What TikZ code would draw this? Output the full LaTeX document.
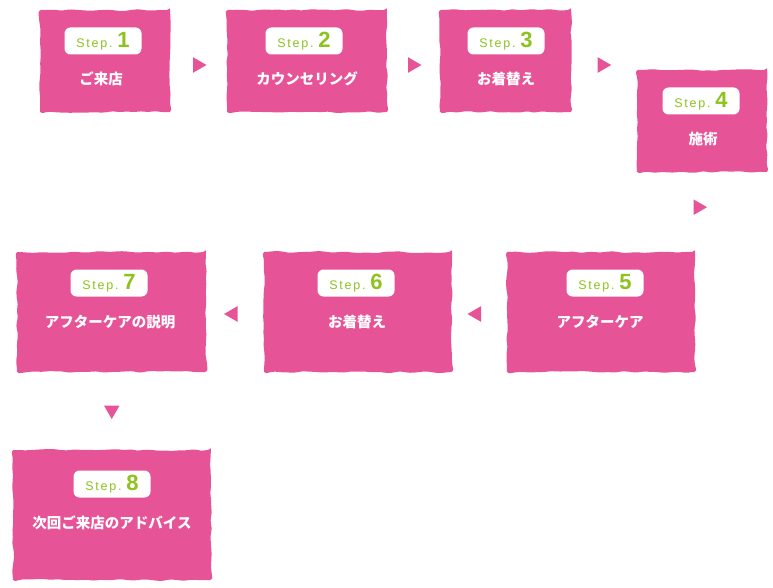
\documentclass[tikz,border=0pt]{standalone}
\usepackage{fontspec}
\setmainfont{Liberation Sans}
\newfontfamily\jp{Noto Sans CJK JP}
\usetikzlibrary{calc,shapes.geometric,decorations.pathmorphing}
\definecolor{cardpink}{HTML}{E75397}
\definecolor{stepgreen}{HTML}{8DC21F}
\tikzset{
  card/.style={fill=cardpink, inner sep=0pt, decorate,
    decoration={random steps, segment length=7pt, amplitude=1pt},
    rounded corners=3pt},
  tag/.style={fill=white, rounded corners=6pt, minimum width=77pt,
    minimum height=27pt, inner sep=0pt, text=stepgreen},
  caption/.style={text=white, font=\jp\bfseries\fontsize{14.5}{16}\selectfont},
  pointer/.style={regular polygon, regular polygon sides=3, fill=cardpink,
    minimum size=18pt, inner sep=0pt},
}
\newcommand{\steplabel}[1]{{\fontsize{12.5}{13}\selectfont\addfontfeature{LetterSpace=14}Step.}\hspace{5pt}{\fontsize{22}{22}\selectfont\bfseries #1}}
\begin{document}
\begin{tikzpicture}[x=1pt, y=-1pt]
  \useasboundingbox (0,0) rectangle (773,588);

  % top row
  \node[card, minimum width=130pt, minimum height=102pt] (s1) at (105,61) {};
  \node[tag] (t1) at (103,41) {\steplabel{1}};
  \node[caption] (c1) at (101,79) {ご来店};

  \node[card, minimum width=160pt, minimum height=102pt] (s2) at (307,61) {};
  \node[tag] (t2) at (304,41) {\steplabel{2}};
  \node[caption] (c2) at (307,79) {カウンセリング};

  \node[card, minimum width=131pt, minimum height=102pt] (s3) at (505.5,61) {};
  \node[tag] (t3) at (506,41) {\steplabel{3}};
  \node[caption] (c3) at (506,79) {お着替え};

  \node[card, minimum width=130pt, minimum height=102pt] (s4) at (702,121) {};
  \node[tag] (t4) at (701,101) {\steplabel{4}};
  \node[caption] (c4) at (703,139) {施術};

  % middle row
  \node[card, minimum width=188pt, minimum height=120pt] (s5) at (601,312) {};
  \node[tag] (t5) at (605,283) {\steplabel{5}};
  \node[caption] (c5) at (600,322) {アフターケア};

  \node[card, minimum width=188pt, minimum height=120pt] (s6) at (358,312) {};
  \node[tag] (t6) at (356,283) {\steplabel{6}};
  \node[caption] (c6) at (357,322) {お着替え};

  \node[card, minimum width=189pt, minimum height=120pt] (s7) at (111.5,312) {};
  \node[tag] (t7) at (109,283) {\steplabel{7}};
  \node[caption] (c7) at (110,322) {アフターケアの説明};

  % bottom
  \node[card, minimum width=198pt, minimum height=130pt] (s8) at (112,515) {};
  \node[tag] (t8) at (112,484) {\steplabel{8}};
  \node[caption] (c8) at (112,523) {次回ご来店のアドバイス};

  % pointers between the steps
  \node[pointer, shape border rotate=-90] (p1) at ($(s1.east)!0.5!(s2.west)+(-1,4)$) {};
  \node[pointer, shape border rotate=-90] (p2) at ($(s2.east)!0.5!(s3.west)+(-1,4)$) {};
  \node[pointer, shape border rotate=-90] (p3) at ($(s3.east)+(31,4)$) {};
  \node[pointer, shape border rotate=-90] (p4) at ($(s4.south)+(-4,35)$) {};
  \node[pointer, shape border rotate=90] (p5) at ($(s6.east)!0.5!(s5.west)+(-3,2)$) {};
  \node[pointer, shape border rotate=90] (p6) at ($(s7.east)!0.5!(s6.west)+(-2,2)$) {};
  \node[pointer, shape border rotate=180] (p7) at ($(s7.south)!0.5!(s8.north)+(0,-1)$) {};
\end{tikzpicture}
\end{document}
